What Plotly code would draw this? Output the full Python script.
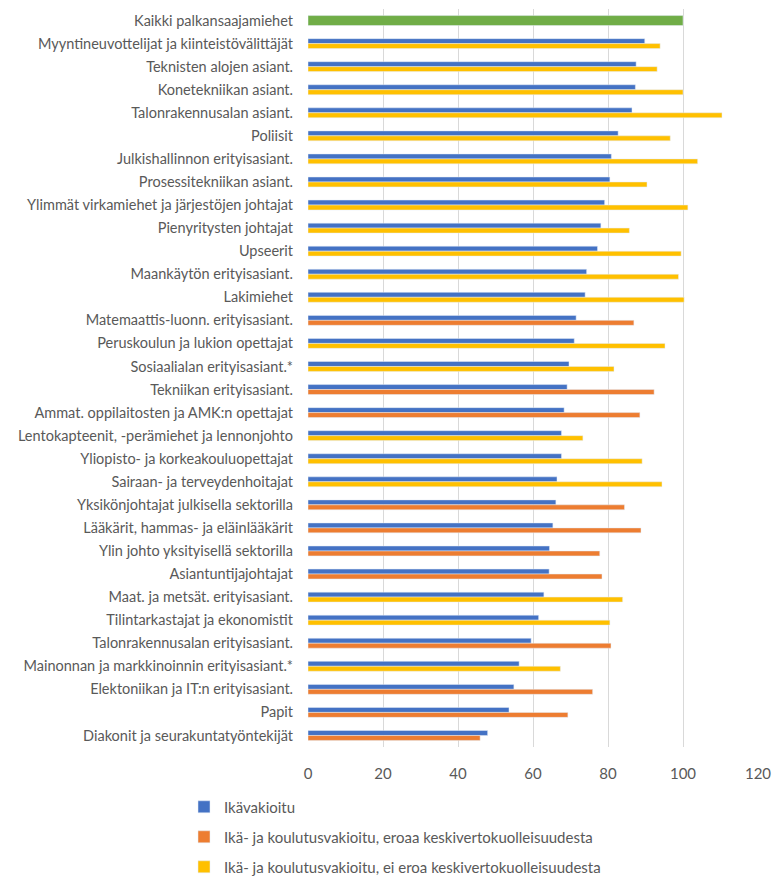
import plotly.graph_objects as go

categories = [
    "Kaikki palkansaajamiehet",
    "Myyntineuvottelijat ja kiinteistövälittäjät",
    "Teknisten alojen asiant.",
    "Konetekniikan asiant.",
    "Talonrakennusalan asiant.",
    "Poliisit",
    "Julkishallinnon erityisasiant.",
    "Prosessitekniikan asiant.",
    "Ylimmät virkamiehet ja järjestöjen johtajat",
    "Pienyritysten johtajat",
    "Upseerit",
    "Maankäytön erityisasiant.",
    "Lakimiehet",
    "Matemaattis-luonn. erityisasiant.",
    "Peruskoulun ja lukion opettajat",
    "Sosiaalialan erityisasiant.*",
    "Tekniikan erityisasiant.",
    "Ammat. oppilaitosten ja AMK:n opettajat",
    "Lentokapteenit, -perämiehet ja lennonjohto",
    "Yliopisto- ja korkeakouluopettajat",
    "Sairaan- ja terveydenhoitajat",
    "Yksikönjohtajat julkisella sektorilla",
    "Lääkärit, hammas- ja eläinlääkärit",
    "Ylin johto yksityisellä sektorilla",
    "Asiantuntijajohtajat",
    "Maat. ja metsät. erityisasiant.",
    "Tilintarkastajat ja ekonomistit",
    "Talonrakennusalan erityisasiant.",
    "Mainonnan ja markkinoinnin erityisasiant.*",
    "Elektoniikan ja IT:n erityisasiant.",
    "Papit",
    "Diakonit ja seurakuntatyöntekijät",
]

all_men = [100, None, None, None, None, None, None, None, None, None, None,
           None, None, None, None, None, None, None, None, None, None, None,
           None, None, None, None, None, None, None, None, None, None]

age_std = [None, 89.8, 87.5, 87.3, 86.4, 82.7, 80.9, 80.5, 79.1, 78.1, 77.2,
           74.3, 73.9, 71.5, 71.0, 69.6, 69.1, 68.3, 67.6, 67.6, 66.4, 66.1,
           65.3, 64.4, 64.3, 62.9, 61.5, 59.5, 56.3, 54.9, 53.6, 47.9]

edu_diff = [None, None, None, None, None, None, None, None, None, None, None,
            None, None, 86.9, None, None, 92.3, 88.5, None, None, None, 84.4,
            88.8, 77.8, 78.4, None, None, 80.8, None, 75.9, 69.3, 45.9]

edu_nodiff = [None, 93.9, 93.1, 100.0, 110.4, 96.6, 103.9, 90.4, 101.3, 85.7, 99.5,
              98.8, 100.3, None, 95.2, 81.6, None, None, 73.3, 89.1, 94.4, None,
              None, None, None, 83.9, 80.5, None, 67.3, None, None, None]

x_ticks = [0, 20, 40, 60, 80, 100, 120]

pos = list(range(len(categories)))
W = 0.215
grey = "#595959"
FONT = "Lato"

fig = go.Figure()
fig.add_trace(go.Bar(y=pos, x=all_men, orientation="h", width=2 * W, offset=-W,
                     marker_color="#70AD47", showlegend=False, name="Kaikki"))
fig.add_trace(go.Bar(y=pos, x=age_std, orientation="h", width=W, offset=-W,
                     marker_color="#4472C4", name="Ikävakioitu", legendgroup="a"))
fig.add_trace(go.Bar(y=pos, x=edu_diff, orientation="h", width=W, offset=0,
                     marker_color="#ED7D31",
                     name="Ikä- ja koulutusvakioitu, eroaa keskivertokuolleisuudesta",
                     legendgroup="b"))
fig.add_trace(go.Bar(y=pos, x=edu_nodiff, orientation="h", width=W, offset=0,
                     marker_color="#FFC000",
                     name="Ikä- ja koulutusvakioitu, ei eroa keskivertokuolleisuudesta",
                     legendgroup="c"))

fig.update_layout(
    width=772, height=881,
    barmode="overlay",
    plot_bgcolor="white", paper_bgcolor="white",
    margin=dict(l=300, r=22, t=1, b=141.5, autoexpand=False),
    font=dict(family=FONT, color=grey, size=15),
    xaxis=dict(range=[0, 120], tickvals=x_ticks, showgrid=True, gridcolor="#d9d9d9",
               gridwidth=1, zeroline=False, showline=False, ticks="",
               ticklabelstandoff=16, automargin=False,
               tickfont=dict(size=15, color=grey, family=FONT), fixedrange=True),
    yaxis=dict(range=[31.5, -0.5], tickvals=pos, ticktext=categories, showgrid=False,
               zeroline=False, showline=False, ticks="", ticklabelstandoff=14,
               automargin=False,
               tickfont=dict(size=14.5, color=grey, family=FONT)),
    legend=dict(x=(176 - 300) / 450, y=-0.059, xanchor="left", yanchor="top",
                orientation="v", tracegroupgap=7.5, itemwidth=30,
                font=dict(size=15, color=grey, family=FONT),
                bgcolor="rgba(0,0,0,0)"),
)

fig.write_html("out.html")
